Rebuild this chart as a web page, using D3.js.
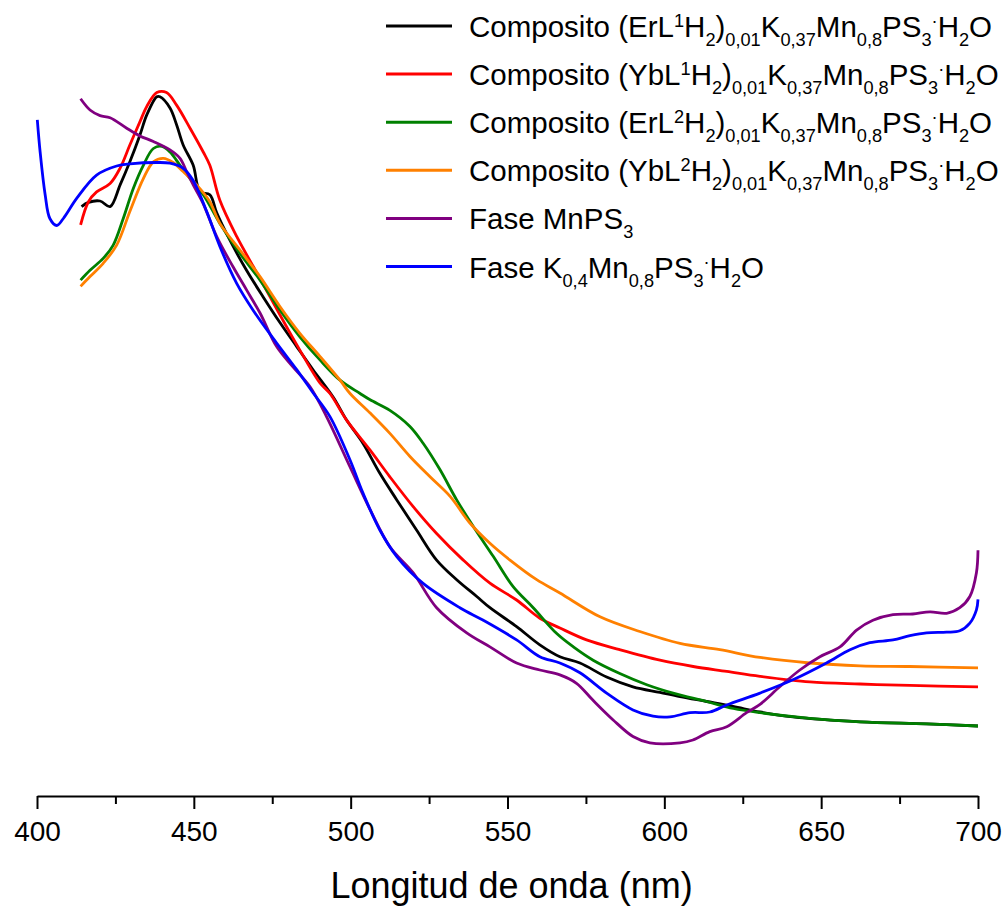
<!DOCTYPE html>
<html>
<head>
<meta charset="utf-8">
<script src="https://cdn.jsdelivr.net/npm/d3@7"></script>
<style>
  html, body { margin: 0; padding: 0; background: #fff; }
  svg text { font-family: "Liberation Sans", Arial, sans-serif; fill: #000; }
</style>
</head>
<body>
<svg id="chart" width="1007" height="907"></svg>
<script>
// ---------------- DATA (wavelength nm, relative absorbance a.u.) ----------------
const xTicksMajor = [400, 450, 500, 550, 600, 650, 700];
const xTicksMinor = [425, 475, 525, 575, 625, 675];
const xTitle = "Longitud de onda (nm)";

const seriesNames = [
  "Composito (ErL^{1}H_{2})_{0,01}K_{0,37}Mn_{0,8}PS_{3}^{·}H_{2}O",
  "Composito (YbL^{1}H_{2})_{0,01}K_{0,37}Mn_{0,8}PS_{3}^{·}H_{2}O",
  "Composito (ErL^{2}H_{2})_{0,01}K_{0,37}Mn_{0,8}PS_{3}^{·}H_{2}O",
  "Composito (YbL^{2}H_{2})_{0,01}K_{0,37}Mn_{0,8}PS_{3}^{·}H_{2}O",
  "Fase MnPS_{3}",
  "Fase K_{0,4}Mn_{0,8}PS_{3}^{·}H_{2}O"
];
const seriesColors = ["#000000", "#ff0000", "#008000", "#ff8000", "#800080", "#0000ff"];

const erL1 = [[414.2,0.842],[416.4,0.848],[420.1,0.850],[423.3,0.842],[426.5,0.873],[429.6,0.906],[432.8,0.944],[435.0,0.973],[438.2,0.999],[439.2,0.999],[442.4,0.983],[444.5,0.959],[446.6,0.930],[449.8,0.901],[452.0,0.863],[455.1,0.859],[457.3,0.833],[461.5,0.794],[466.8,0.751],[472.1,0.713],[477.5,0.676],[482.8,0.642],[488.0,0.609],[494.4,0.570],[498.7,0.537],[503.9,0.504],[509.3,0.461],[514.7,0.423],[521.0,0.380],[527.4,0.337],[533.8,0.309],[540.2,0.285],[544.4,0.269],[552.9,0.242],[560.3,0.216],[566.7,0.199],[573.1,0.190],[581.6,0.170],[590.0,0.156],[598.6,0.148],[605.0,0.142],[613.5,0.135],[621.9,0.128],[630.5,0.120],[641.0,0.113],[662.4,0.106],[683.6,0.103],[700,0.100]];

const ybL1 = [[413.9,0.816],[416.4,0.849],[419.0,0.863],[423.3,0.875],[426.5,0.897],[429.6,0.930],[432.8,0.963],[435.0,0.985],[438.2,1.005],[441.3,1.005],[444.5,0.987],[448.8,0.954],[453.0,0.920],[455.1,0.901],[458.3,0.851],[463.7,0.799],[469.0,0.756],[474.3,0.713],[479.6,0.670],[483.8,0.637],[490.2,0.590],[493.4,0.575],[498.7,0.537],[506.2,0.494],[512.5,0.456],[520.0,0.413],[527.4,0.375],[535.9,0.337],[544.4,0.304],[552.9,0.280],[560.3,0.254],[566.7,0.240],[575.2,0.223],[585.8,0.209],[598.6,0.194],[609.2,0.185],[619.9,0.178],[630.5,0.171],[646.4,0.163],[662.4,0.160],[678.3,0.158],[700,0.156]];

const erL2 = [[413.9,0.737],[416.9,0.751],[421.1,0.768],[424.3,0.787],[427.5,0.825],[430.7,0.868],[433.9,0.901],[437.1,0.925],[439.8,0.928],[442.4,0.920],[445.6,0.901],[448.8,0.882],[453.0,0.859],[458.3,0.818],[464.7,0.775],[471.1,0.737],[477.5,0.694],[483.8,0.656],[490.2,0.623],[496.6,0.594],[503.0,0.575],[506.2,0.566],[512.5,0.551],[518.9,0.528],[523.1,0.504],[528.5,0.466],[533.8,0.423],[539.1,0.385],[545.5,0.342],[551.8,0.299],[558.2,0.269],[565.7,0.232],[571.0,0.213],[577.3,0.194],[585.8,0.175],[594.4,0.159],[602.8,0.147],[613.5,0.135],[622.0,0.125],[630.5,0.119],[646.4,0.111],[662.4,0.106],[683.6,0.103],[700,0.100]];

const ybL2 = [[413.9,0.728],[416.9,0.742],[421.1,0.761],[425.4,0.787],[429.6,0.835],[433.9,0.882],[437.1,0.906],[440.3,0.911],[443.4,0.905],[446.6,0.892],[450.9,0.873],[455.1,0.849],[458.3,0.818],[464.7,0.780],[471.1,0.742],[477.5,0.699],[483.8,0.661],[490.2,0.628],[496.6,0.594],[499.8,0.575],[506.2,0.547],[512.5,0.518],[518.9,0.485],[525.3,0.456],[531.7,0.428],[538.0,0.390],[544.4,0.361],[550.8,0.337],[559.3,0.309],[566.7,0.290],[579.5,0.256],[592.2,0.235],[605.0,0.218],[617.7,0.209],[630.5,0.198],[646.4,0.190],[662.4,0.186],[678.3,0.185],[700,0.183]];

const mnps3 = [[413.9,0.996],[416.9,0.980],[420.1,0.972],[423.3,0.969],[428.6,0.954],[432.8,0.943],[437.1,0.935],[442.4,0.923],[445.6,0.911],[447.7,0.892],[449.8,0.873],[452.9,0.847],[457.3,0.799],[462.5,0.756],[466.8,0.723],[471.1,0.690],[476.4,0.642],[481.6,0.613],[487.0,0.585],[492.3,0.542],[499.8,0.470],[506.2,0.409],[512.5,0.356],[519.9,0.319],[527.4,0.269],[537.0,0.233],[544.4,0.213],[552.9,0.190],[560.3,0.180],[566.7,0.173],[572.0,0.161],[577.2,0.137],[583.6,0.109],[590.0,0.085],[595.4,0.076],[605.0,0.076],[609.1,0.080],[614.5,0.092],[619.9,0.099],[626.2,0.119],[630.5,0.131],[636.8,0.156],[643.2,0.180],[649.6,0.199],[656.0,0.213],[661.3,0.237],[666.5,0.251],[672.9,0.259],[679.2,0.260],[684.7,0.263],[690.0,0.261],[694.2,0.269],[697.4,0.285],[699.5,0.319],[700,0.351]];

const kmnps3 = [[400.1,0.966],[401.0,0.920],[402.6,0.859],[404.1,0.825],[406.3,0.815],[408.4,0.825],[412.7,0.854],[419.0,0.887],[425.4,0.900],[429.6,0.903],[438.2,0.905],[442.4,0.904],[446.5,0.897],[449.7,0.880],[454.1,0.835],[458.3,0.785],[463.7,0.732],[468.9,0.694],[476.4,0.647],[482.8,0.609],[488.0,0.576],[493.4,0.542],[499.8,0.480],[503.9,0.433],[509.3,0.380],[514.7,0.342],[523.0,0.304],[534.8,0.269],[542.3,0.251],[552.9,0.223],[560.3,0.199],[566.7,0.190],[573.1,0.176],[581.6,0.147],[590.0,0.123],[596.4,0.114],[601.8,0.113],[608.2,0.119],[614.5,0.120],[619.9,0.130],[630.5,0.147],[641.0,0.166],[651.7,0.190],[659.2,0.209],[665.5,0.219],[672.9,0.223],[678.3,0.229],[683.6,0.233],[690.0,0.234],[694.2,0.236],[697.4,0.247],[699.5,0.266],[700,0.281]];

const seriesData = [erL1, ybL1, erL2, ybL2, mnps3, kmnps3];

// ---------------- CHART ----------------
const svg = d3.select("#chart");
const x = d3.scaleLinear().domain([400, 700]).range([37, 978]);
const y = d3.scaleLinear().domain([0, 1]).range([796, 96]);

// curves
const line = d3.line().x(d => x(d[0])).y(d => y(d[1])).curve(d3.curveCatmullRom.alpha(0.5));
svg.append("g").selectAll("path")
  .data(seriesData)
  .join("path")
  .attr("d", line)
  .attr("fill", "none")
  .attr("stroke", (d, i) => seriesColors[i])
  .attr("stroke-width", 2.8)
  .attr("stroke-linejoin", "round");

// x axis (major)
const gx = svg.append("g").attr("transform", "translate(0,796)")
  .call(d3.axisBottom(x).tickValues(xTicksMajor).tickSize(13).tickPadding(12).tickSizeOuter(0).tickFormat(d3.format("d")));
gx.select(".domain").attr("stroke", "#000").attr("stroke-width", 2);
gx.selectAll(".tick line").attr("stroke", "#000").attr("stroke-width", 2);
gx.selectAll(".tick text").attr("font-size", 28).attr("font-family", "Liberation Sans, Arial, sans-serif");

// minor ticks
const gm = svg.append("g").attr("transform", "translate(0,796)")
  .call(d3.axisBottom(x).tickValues(xTicksMinor).tickSize(8).tickFormat(""));
gm.select(".domain").remove();
gm.selectAll(".tick line").attr("stroke", "#000").attr("stroke-width", 2);

// x title
svg.append("text")
  .attr("x", x(550) + 4).attr("y", 898)
  .attr("text-anchor", "middle")
  .attr("font-size", 36)
  .text(xTitle);

// legend
function parseLabel(s) {
  const parts = [];
  const re = /([_^])\{([^}]*)\}|([^_^]+)/g;
  let m;
  while ((m = re.exec(s)) !== null) {
    if (m[3]) parts.push({ t: m[3], k: "n" });
    else parts.push({ t: m[2], k: m[1] === "_" ? "sub" : "sup" });
  }
  return parts;
}
const legendFont = 29.5;
const subFont = 18.2;
const shift = { n: 0, sub: 9, sup: -10 };
const leg = svg.append("g");
seriesNames.forEach((name, i) => {
  const by = 37 + i * 48.1;
  leg.append("line")
    .attr("x1", 386).attr("x2", 452)
    .attr("y1", by - 11).attr("y2", by - 11)
    .attr("stroke", seriesColors[i]).attr("stroke-width", 3);
  const t = leg.append("text").attr("x", 469).attr("y", by).attr("font-size", legendFont);
  let cur = 0;
  parseLabel(name).forEach(p => {
    const target = shift[p.k];
    t.append("tspan")
      .attr("dy", target - cur)
      .attr("font-size", p.k === "n" ? legendFont : subFont)
      .text(p.t);
    cur = target;
  });
});
</script>
</body>
</html>
